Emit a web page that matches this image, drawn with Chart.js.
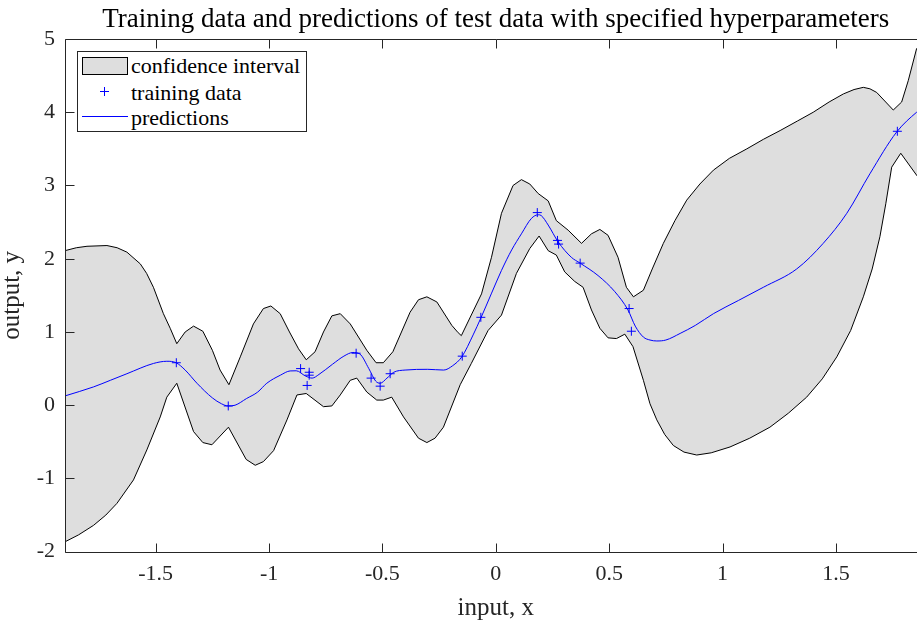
<!DOCTYPE html>
<html>
<head>
<meta charset="utf-8">
<script src="https://cdn.jsdelivr.net/npm/chart.js@4"></script>
<style>
  body { margin: 0; overflow: hidden; background: #fff; }
  #wrap { position: relative; width: 992px; height: 621px; }
  #legendBox {
    position: absolute; left: 76.5px; top: 50.5px; width: 230px; height: 81px;
    border: 1px solid #262626; background: #fff; box-sizing: border-box;
  }
  .lg { position: absolute; font-family: "Liberation Serif", "Times New Roman", serif;
        font-size: 22px; line-height: 22px; color: #000; white-space: nowrap; }
  .sw { position: absolute; }
</style>
</head>
<body>
<div id="wrap">
  <canvas id="myChart"></canvas>
  <div id="legendBox"></div>
  <div class="sw" style="left:81.5px;top:56.5px;width:46px;height:18.5px;background:#dedede;border:1px solid #000;box-sizing:border-box;"></div>
  <div class="sw" style="left:100px;top:91px;width:9px;height:1px;background:#0000ff;"></div>
  <div class="sw" style="left:104px;top:87px;width:1px;height:9px;background:#0000ff;"></div>
  <div class="sw" style="left:81.5px;top:116px;width:46px;height:1px;background:#0000ff;"></div>
  <div class="lg" style="left:131px;top:54.9px;">confidence interval</div>
  <div class="lg" style="left:131px;top:81.6px;">training data</div>
  <div class="lg" style="left:131px;top:106.6px;">predictions</div>
</div>
<script>
// values
let trainX = [-1.409, -1.180, -0.861, -0.832, -0.823, -0.823, -0.616, -0.550, -0.510, -0.466,
              -0.148, -0.066, 0.183, 0.272, 0.277, 0.372, 0.588, 0.598, 1.771];
let trainY = [0.58, -0.01, 0.50, 0.27, 0.45, 0.41, 0.71, 0.37, 0.26, 0.43,
              0.67, 1.20, 2.63, 2.25, 2.20, 1.94, 1.32, 1.01, 3.74];

let predX = [-1.9, -1.774, -1.7, -1.627, -1.51, -1.451, -1.41, -1.37, -1.318, -1.25, -1.21, -1.18,
             -1.15, -1.1, -1.05, -1.01, -0.95, -0.907, -0.88, -0.84, -0.81, -0.78, -0.72, -0.67,
             -0.63, -0.6, -0.56, -0.53, -0.51, -0.48, -0.45, -0.4, -0.3, -0.23, -0.19, -0.15, -0.1,
             -0.066, -0.02, 0.025, 0.07, 0.113, 0.157, 0.187, 0.2, 0.231, 0.275, 0.333, 0.372, 0.451,
             0.525, 0.583, 0.615, 0.651, 0.68, 0.71, 0.75, 0.813, 0.88, 0.96, 1.07, 1.18, 1.327,
             1.444, 1.548, 1.65, 1.768, 1.856, 1.9];
let predY = [0.127, 0.25, 0.34, 0.43, 0.57, 0.60, 0.58, 0.48, 0.30, 0.10, 0.02, -0.01,
             0.0, 0.09, 0.18, 0.30, 0.41, 0.468, 0.47, 0.40, 0.37, 0.42, 0.56, 0.67,
             0.72, 0.70, 0.50, 0.33, 0.30, 0.37, 0.45, 0.48, 0.49, 0.48, 0.54, 0.66, 0.96,
             1.19, 1.52, 1.84, 2.12, 2.34, 2.55, 2.60, 2.59, 2.46, 2.23, 2.02, 1.94, 1.77,
             1.55, 1.30, 1.08, 0.93, 0.89, 0.877, 0.89, 0.98, 1.09, 1.25, 1.43, 1.61, 1.86,
             2.21, 2.62, 3.16, 3.73, 4.00, 4.10];

let upperX = [-1.9, -1.85, -1.803, -1.715, -1.67, -1.627, -1.568, -1.54, -1.51, -1.466, -1.436,
              -1.407, -1.37, -1.333, -1.292, -1.25, -1.216, -1.177, -1.127, -1.069, -1.025, -0.992,
              -0.951, -0.91, -0.87, -0.836, -0.797, -0.76, -0.723, -0.686, -0.642, -0.569, -0.528,
              -0.496, -0.454, -0.378, -0.341, -0.304, -0.26, -0.194, -0.166, -0.152, -0.063,
              -0.019, 0.025, 0.076, 0.113, 0.15, 0.187, 0.231, 0.267, 0.319, 0.378, 0.422, 0.459,
              0.495, 0.539, 0.576, 0.607, 0.651, 0.69, 0.739, 0.79, 0.842, 0.9, 0.96, 1.03, 1.107,
              1.18, 1.254, 1.33, 1.4, 1.47, 1.533, 1.58, 1.621, 1.65, 1.68, 1.753, 1.79, 1.819,
              1.856, 1.9];
let upperY = [2.11, 2.15, 2.17, 2.18, 2.15, 2.09, 1.93, 1.80, 1.61, 1.25, 1.05,
              0.84, 1.00, 1.08, 1.01, 0.75, 0.48, 0.28, 0.66, 1.11, 1.32, 1.355,
              1.25, 1.00, 0.77, 0.62, 0.73, 1.00, 1.22, 1.25, 1.11, 0.75, 0.58,
              0.58, 0.73, 1.27, 1.44, 1.48, 1.41, 1.09, 0.99, 0.95, 1.52,
              2.02, 2.62, 3.00, 3.08, 3.02, 2.89, 2.79, 2.52, 2.39, 2.21, 2.34, 2.40,
              2.32, 2.02, 1.61, 1.48, 1.57, 1.86, 2.21, 2.52, 2.80, 3.02, 3.21, 3.37, 3.50,
              3.63, 3.75, 3.88, 4.00, 4.14, 4.25, 4.31, 4.34, 4.32, 4.27, 4.03, 4.14, 4.43,
              4.87, 5.0];

let lowerX = [-1.9, -1.84, -1.774, -1.72, -1.671, -1.598, -1.539, -1.48, -1.451, -1.407, -1.333,
              -1.292, -1.252, -1.179, -1.101, -1.061, -1.025, -0.98, -0.921, -0.877, -0.836, -0.76,
              -0.723, -0.686, -0.642, -0.613, -0.569, -0.525, -0.496, -0.459, -0.407, -0.341,
              -0.304, -0.268, -0.231, -0.157, -0.108, -0.034, 0.025, 0.091, 0.15, 0.191, 0.231,
              0.267, 0.304, 0.348, 0.385, 0.422, 0.459, 0.495, 0.532, 0.569, 0.605, 0.651, 0.68,
              0.71, 0.745, 0.783, 0.83, 0.886, 0.95, 1.033, 1.12, 1.209, 1.29, 1.371, 1.44, 1.504,
              1.565, 1.621, 1.66, 1.694, 1.72, 1.746, 1.786, 1.856, 1.9];
let lowerY = [-1.865, -1.77, -1.64, -1.50, -1.34, -1.02, -0.61, -0.16, 0.11, 0.30, -0.36,
              -0.51, -0.54, -0.30, -0.74, -0.82, -0.77, -0.62, -0.20, 0.14, 0.16, -0.02,
              -0.01, 0.14, 0.34, 0.37, 0.18, 0.07, 0.07, 0.11, -0.16, -0.45,
              -0.51, -0.45, -0.30, 0.28, 0.57, 1.02, 1.23, 1.80, 2.14, 2.31, 2.11,
              2.05, 1.82, 1.69, 1.61, 1.30, 1.05, 0.92, 0.91, 0.97, 0.80, 0.34, 0.02,
              -0.20, -0.40, -0.55, -0.64, -0.68, -0.65, -0.57, -0.45, -0.30, -0.11, 0.11, 0.36, 0.66,
              1.02, 1.48, 1.86, 2.30, 2.75, 3.25, 3.44, 3.14, 2.95];

let xTicks = [-1.5, -1, -0.5, 0, 0.5, 1, 1.5];
let yTicks = [-2, -1, 0, 1, 2, 3, 4, 5];

function pts(xs, ys) {
    return xs.map((x, i) => ({ x: x, y: ys[i] }));
}

const axisColor = '#262626';
const serif = '"Liberation Serif", "Times New Roman", serif';

// MATLAB style box with inward tick marks
const boxAxes = {
    id: 'boxAxes',
    afterDatasetsDraw(chart) {
        const { ctx, chartArea: a, scales } = chart;
        const L = Math.round(a.left) + 0.5, R = Math.round(a.right) + 0.5;
        const T = Math.round(a.top) + 0.5, B = Math.round(a.bottom) + 0.5;
        ctx.save();
        ctx.strokeStyle = axisColor;
        ctx.lineWidth = 1;
        ctx.beginPath();
        ctx.rect(L, T, R - L, B - T);
        xTicks.forEach(v => {
            const p = Math.round(scales.x.getPixelForValue(v)) + 0.5;
            ctx.moveTo(p, B); ctx.lineTo(p, B - 9);
            ctx.moveTo(p, T); ctx.lineTo(p, T + 9);
        });
        yTicks.forEach(v => {
            const p = Math.round(scales.y.getPixelForValue(v)) + 0.5;
            ctx.moveTo(L, p); ctx.lineTo(L + 9, p);
            ctx.moveTo(R, p); ctx.lineTo(R - 9, p);
        });
        ctx.stroke();
        ctx.restore();
    }
};

let ctx = document.getElementById('myChart').getContext('2d');
let myChart = new Chart(ctx, {
    type: 'line',
    data: {
        datasets: [
            {
                label: 'training data',
                data: pts(trainX, trainY),
                showLine: false,
                pointStyle: 'cross',
                pointRadius: 4.5,
                borderColor: '#0000ff',
                borderWidth: 1
            },
            {
                label: 'predictions',
                data: pts(predX, predY),
                borderColor: '#0000ff',
                borderWidth: 1,
                pointRadius: 0,
                cubicInterpolationMode: 'monotone'
            },
            {
                label: 'confidence interval',
                data: pts(upperX, upperY),
                borderColor: '#000000',
                borderWidth: 1,
                pointRadius: 0,
                backgroundColor: '#dedede',
                fill: '+1'
            },
            {
                label: 'lower',
                data: pts(lowerX, lowerY),
                borderColor: '#000000',
                borderWidth: 1,
                pointRadius: 0,
                fill: false
            }
        ]
    },
    options: {
        responsive: true,
        maintainAspectRatio: false,
        animation: false,
        layout: { padding: { left: 0, right: 65.4, top: 0, bottom: 0 } },
        plugins: {
            legend: { display: false },
            tooltip: { enabled: false },
            filler: { drawTime: 'beforeDatasetsDraw' },
            title: {
                display: true,
                fullSize: false,
                text: 'Training data and predictions of test data with specified hyperparameters',
                color: '#000',
                font: { family: serif, size: 27, weight: 'normal', lineHeight: 1.2 },
                padding: { top: 4, bottom: 2.6 }
            }
        },
        scales: {
            x: {
                type: 'linear',
                min: -1.9,
                max: 1.9,
                afterBuildTicks: s => { s.ticks = xTicks.map(v => ({ value: v })); },
                afterFit: s => { s.height = 69.3; },
                grid: { display: false, drawTicks: false },
                border: { display: false },
                ticks: {
                    color: axisColor,
                    padding: 9.4,
                    maxRotation: 0,
                    font: { family: serif, size: 22 },
                    callback: v => String(v)
                },
                title: {
                    display: true,
                    text: 'input, x',
                    color: axisColor,
                    font: { family: serif, size: 25, lineHeight: 1 },
                    padding: { top: 0, bottom: 0 }
                }
            },
            y: {
                min: -2,
                max: 5,
                afterBuildTicks: s => { s.ticks = yTicks.map(v => ({ value: v })); },
                afterFit: s => { s.width = 65; },
                grid: { display: false, drawTicks: false },
                border: { display: false },
                ticks: {
                    color: axisColor,
                    padding: 10,
                    font: { family: serif, size: 22 },
                    callback: v => String(v)
                },
                title: {
                    display: true,
                    text: 'output, y',
                    color: axisColor,
                    font: { family: serif, size: 25, lineHeight: 1 },
                    padding: { top: 0, bottom: 0 }
                }
            }
        }
    },
    plugins: [boxAxes]
});
</script>
</body>
</html>
